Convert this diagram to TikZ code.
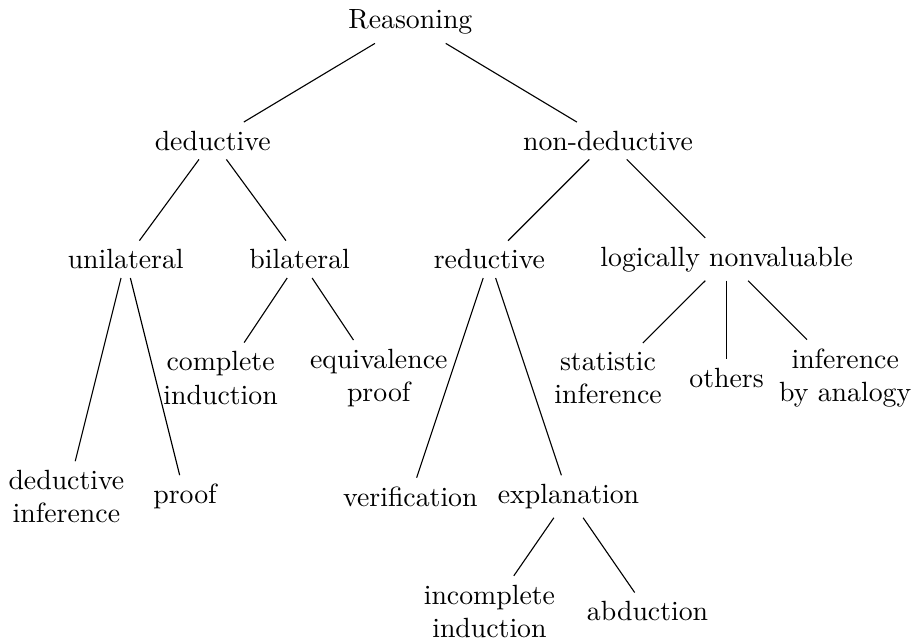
\documentclass[tikz,border=0pt]{standalone}
\usetikzlibrary{positioning}

\begin{document}
\begin{tikzpicture}[
    every node/.style={align=center, inner sep=3pt},
    branch/.style={-, draw=black, line width=0.4pt}
]
  \useasboundingbox (-5.19,-7.84) rectangle (6.37,0.28);

  \node (root) at (0,0) {Reasoning};

  \node (ded) at (-2.5,-1.5) {deductive};
  \node (nonded) at (2.5,-1.5) {non-deductive};

  \node (uni) at (-3.6,-3) {unilateral};
  \node (bil) at (-1.4,-3) {bilateral};
  \node (red) at (1,-3) {reductive};
  \node (lnv) at (4,-3) {logically nonvaluable};

  \node (compl) at (-2.4,-4.5) {complete\\induction};
  \node (equiv) at (-0.4,-4.5) {equivalence\\proof};
  \node (stat) at (2.5,-4.5) {statistic\\inference};
  \node (oth) at (4,-4.5) {others};
  \node (analog) at (5.5,-4.5) {inference\\by analogy};

  \node (dedinf) at (-4.35,-6) {deductive\\inference};
  \node (proof) at (-2.85,-6) {proof};
  \node (verif) at (0,-6) {verification};
  \node (expl) at (2,-6) {explanation};

  \node (incompl) at (1,-7.45) {incomplete\\induction};
  \node (abd) at (3,-7.45) {abduction};

  \draw[branch] (root) -- (ded);
  \draw[branch] (root) -- (nonded);
  \draw[branch] (ded) -- (uni);
  \draw[branch] (ded) -- (bil);
  \draw[branch] (nonded) -- (red);
  \draw[branch] (nonded) -- (lnv);
  \draw[branch] (bil) -- (compl);
  \draw[branch] (bil) -- (equiv);
  \draw[branch] (lnv) -- (stat);
  \draw[branch] (lnv) -- (oth);
  \draw[branch] (lnv) -- (analog);
  \draw[branch] (uni) -- (dedinf);
  \draw[branch] (uni) -- (proof);
  \draw[branch] (red) -- (verif);
  \draw[branch] (red) -- (expl);
  \draw[branch] (expl) -- (incompl);
  \draw[branch] (expl) -- (abd);
\end{tikzpicture}
\end{document}
